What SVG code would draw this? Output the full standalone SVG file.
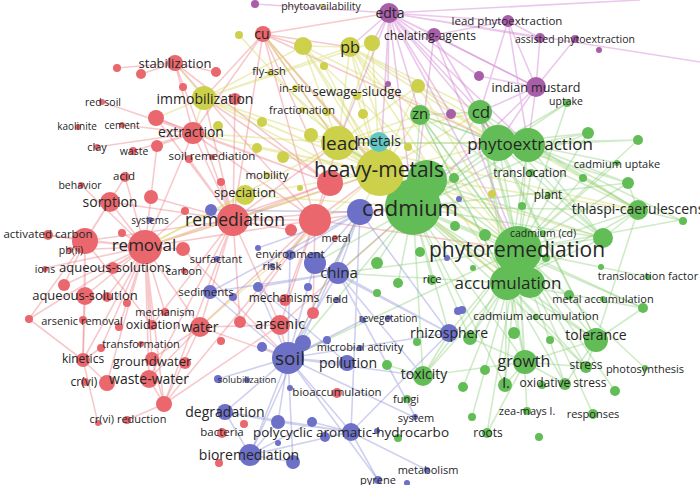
<svg xmlns="http://www.w3.org/2000/svg" width="700" height="485" viewBox="0 0 700 485">
<style>
.r{fill:#e9676d}.y{fill:#cdd04b}.g{fill:#63bd56}.b{fill:#6c70c7}.p{fill:#a85ea9}.c{fill:#62c7c3}
#edges path{fill:none;stroke-width:1.6;stroke-opacity:.42}
.er{stroke:#ec7e85}.ey{stroke:#d3d660}.eg{stroke:#8fcf7d}.eb{stroke:#8d92d6}.ep{stroke:#cf7bd0}
text{font-family:"Open Sans","DejaVu Sans",sans-serif;fill:#262626;text-anchor:middle}
</style>
<rect width="700" height="485" fill="#fff"/>
<g id="edges">
<path class="er" d="M145 247L85 241M145 247L110 202M145 247L151 197M145 247L125 177M145 247L81 185M145 247L48 235M145 247L70 250M145 247L45 268M145 247L113 268M145 247L85 296M145 247L64 285M145 247L107 297M145 247L127 303M145 247L152 325M145 247L165 312M145 247L200 327M145 247L83 360M145 247L152 359M145 247L149 379M145 247L107 383M145 247L183 249M145 247L233 220M145 247L315 220M145 247L193 133M145 247L157 146M145 247L29 319M145 247L101 348M145 247L119 327M145 247L164 404M145 247L122 233M145 247L185 211M145 247L330 183"/>
<path class="er" d="M85 241L110 202M85 241L125 177M85 241L48 235M85 241L85 296M85 241L83 360M85 241L29 319M85 241L64 285M85 241L233 220M85 241L152 325"/>
<path class="er" d="M233 220L193 133M233 220L156 118M233 220L175 63M233 220L263 34M233 220L204 98M233 220L315 220M233 220L280 325M233 220L200 327M233 220L149 379M233 220L164 404M233 220L110 202M233 220L235 99M233 220L338 143M233 220L380 172M233 220L413 207M233 220L151 197M233 220L221 182M233 220L291 230M233 220L330 183M233 220L240 322M233 220L152 325M233 220L189 159"/>
<path class="er" d="M315 220L263 34M315 220L193 133M315 220L175 63M315 220L280 325M315 220L380 172M315 220L413 207M315 220L518 250M315 220L200 327M315 220L164 404M315 220L338 143M315 220L240 322M315 220L313 313M315 220L285 300M315 220L330 183"/>
<path class="er" d="M330 183L263 34M330 183L193 133M330 183L204 98M330 183L156 118M330 183L175 63M263 34L338 143M263 34L380 172M263 34L413 207M263 34L498 143M263 34L350 47M263 34L193 133M263 34L303 46M263 34L204 98M263 34L389 13"/>
<path class="er" d="M164 404L152 359M164 404L149 379M164 404L280 325M200 327L152 359M200 327L149 379M200 327L288 358M200 327L164 404M280 325L288 358M280 325L200 327M280 325L413 207M83 360L101 348M83 360L107 383M83 360L85 296M193 133L156 118M193 133L157 146M193 133L133 151M193 133L175 63M193 133L122 125M193 133L97 147M193 133L102 102M175 63L117 68M175 63L141 74M175 63L216 72M127 420L164 404M98 423L83 360M183 249L288 358M29 319L83 360"/>
<path class="ey" d="M380 172L204 98M380 172L245 195M380 172L350 47M380 172L303 46M380 172L372 43M380 172L270 73M380 172L357 97M380 172L302 110M380 172L262 122M380 172L338 143M380 172L193 133M380 172L257 148M380 172L283 157M380 172L233 220M380 172L145 247M380 172L420 115M380 172L480 112M380 172L498 143M380 172L518 250M380 172L288 358M380 172L200 327M380 172L418 86M380 172L324 66M380 172L311 135M380 172L263 34M380 172L507 283M380 172L603 238M380 172L638 210"/>
<path class="ey" d="M338 143L350 47M338 143L303 46M338 143L263 34M338 143L204 98M338 143L193 133M338 143L145 247M338 143L420 115M338 143L480 112M338 143L498 143M338 143L413 207M338 143L518 250M338 143L418 86M338 143L372 43M338 143L239 35M338 143L507 283M338 143L638 210"/>
<path class="ey" d="M204 98L350 47M204 98L303 46M204 98L193 133M204 98L156 118M204 98L175 63M204 98L413 207M204 98L372 43M350 47L420 115M350 47L480 112M350 47L498 143M350 47L413 207M350 47L518 250M350 47L303 46M350 47L507 283M350 47L638 210M303 46L413 207M303 46L498 143M303 46L518 250M418 86L498 143M418 86L518 250M245 195L145 247M245 195L413 207"/>
<path class="eg" d="M413 207L498 143M413 207L528 145M413 207L518 250M413 207L507 283M413 207L530 283M413 207L480 112M413 207L420 115M413 207L603 238M413 207L638 210M413 207L588 133M413 207L596 340M413 207L525 362M413 207L423 376M413 207L432 280M413 207L449 333M413 207L505 385M413 207L586 367M413 207L643 308M413 207L628 183M413 207L567 103M413 207L288 358M413 207L338 273M413 207L315 263M413 207L377 263M413 207L398 283M413 207L454 178M413 207L455 226M413 207L485 235M413 207L470 338"/>
<path class="eg" d="M518 250L498 143M518 250L528 145M518 250L480 112M518 250L420 115M518 250L596 340M518 250L525 362M518 250L423 376M518 250L638 210M518 250L603 238M518 250L588 133M518 250L638 140M518 250L643 308M518 250L586 367M518 250L565 384M518 250L505 385M518 250L487 433M518 250L593 414M518 250L527 411M518 250L680 220M518 250L628 183M518 250L583 178M518 250L567 103M518 250L338 143M518 250L288 358M518 250L338 273M518 250L449 333M518 250L470 338M518 250L615 391M518 250L645 368M518 250L648 277M518 250L568 295M518 250L546 258M518 250L531 173M518 250L463 387M518 250L472 417M518 250L617 163"/>
<path class="eg" d="M507 283L596 340M507 283L525 362M507 283L423 376M507 283L480 112M507 283L638 210M507 283L603 238M507 283L505 385M507 283L586 367M507 283L420 115M507 283L528 145M507 283L565 384M507 283L470 338M507 283L338 273M507 283L643 308M507 283L536 317"/>
<path class="eg" d="M498 143L480 112M498 143L420 115M498 143L638 210M498 143L588 133M498 143L628 183M498 143L603 238M498 143L567 103M498 143L638 140M498 143L531 173M498 143L596 340M498 143L338 143M528 145L638 210M528 145L588 133M528 145L638 140M528 145L603 238M528 145L628 183M528 145L680 220M528 145L617 163"/>
<path class="eg" d="M480 112L638 210M480 112L603 238M480 112L596 340M480 112L525 362M480 112L530 283M480 112L420 115M420 115L518 250M420 115L507 283M420 115L603 238M420 115L498 143M525 362L596 340M525 362L586 367M525 362L565 384M525 362L487 433M525 362L423 376M525 362L505 385M525 362L470 338M596 340L586 367M596 340L565 384M596 340L643 308M596 340L638 210M638 210L603 238M638 210L628 183M638 210L680 220M427 180L498 143M427 180L518 250M427 180L603 238M423 376L449 333M423 376L387 365"/>
<path class="eb" d="M288 358L303 343M288 358L262 347M288 358L347 363M288 358L338 273M288 358L315 263M288 358L360 212M288 358L225 412M288 358L250 455M288 358L278 422M288 358L351 432M288 358L218 379M288 358L210 292M288 358L258 287M288 358L449 333M288 358L416 418M288 358L378 480M288 358L293 462M288 358L327 340M288 358L290 255M288 358L423 376M288 358L363 320M288 358L308 287"/>
<path class="eb" d="M360 212L338 273M360 212L315 263M360 212L290 255M360 212L210 292M360 212L449 333M360 212L351 432M360 212L250 455M360 212L211 210M360 212L258 248M351 432L225 412M351 432L250 455M351 432L378 480M351 432L427 470M351 432L278 422M351 432L312 422M351 432L449 333M351 432L325 437M250 455L225 412M250 455L278 422M250 455L293 462M250 455L312 422M338 273L449 333M338 273L423 376M338 273L416 418M338 273L210 292M338 273L258 287M225 412L278 422M315 263L449 333M258 287L347 363"/>
<path class="ep" d="M389 13L434 35M389 13L508 21M389 13L540 38M389 13L536 87M389 13L480 112M389 13L420 115M389 13L498 143M389 13L528 145M389 13L413 207M389 13L380 172M389 13L338 143M389 13L350 47M389 13L372 43M389 13L518 250M389 13L451 114M389 13L388 84M389 13L479 76M389 13L255 4M389 13L700 62M389 13L640 0"/>
<path class="ep" d="M536 87L528 145M536 87L498 143M536 87L508 21M536 87L540 38M536 87L479 76M536 87L480 112M536 87L434 35M536 87L413 207M536 87L575 39M508 21L528 145M508 21L434 35M508 21L480 112M508 21L540 38M434 35L480 112M434 35L413 207M434 35L518 250M434 35L498 143"/>
</g>
<g id="nodes">
<g id="u-p1"><circle class="p" cx="255" cy="4" r="4"/></g>
<g id="u-p2"><circle class="p" cx="451" cy="114" r="5"/></g>
<g id="u-p3"><circle class="p" cx="388" cy="84" r="3"/></g>
<g id="u-p4"><circle class="p" cx="479" cy="76" r="5"/></g>
<g id="u-p5"><circle class="p" cx="540" cy="38" r="5"/></g>
<g id="u-p6"><circle class="p" cx="599" cy="50" r="3"/></g>
<g id="u-y1"><circle class="y" cx="239" cy="35" r="4"/></g>
<g id="u-y2"><circle class="y" cx="303" cy="46" r="9"/></g>
<g id="u-y3"><circle class="y" cx="372" cy="43" r="8"/></g>
<g id="u-y4"><circle class="y" cx="324" cy="66" r="4"/></g>
<g id="u-y5"><circle class="y" cx="418" cy="86" r="7"/></g>
<g id="u-y6"><circle class="y" cx="327" cy="112" r="4"/></g>
<g id="u-y7"><circle class="y" cx="363" cy="114" r="5"/></g>
<g id="u-y8"><circle class="y" cx="262" cy="122" r="5"/></g>
<g id="u-y9"><circle class="y" cx="218" cy="126" r="5"/></g>
<g id="u-y10"><circle class="y" cx="311" cy="135" r="7"/></g>
<g id="u-y11"><circle class="y" cx="257" cy="148" r="5"/></g>
<g id="u-y12"><circle class="y" cx="283" cy="157" r="6"/></g>
<g id="u-y13"><circle class="y" cx="408" cy="147" r="4"/></g>
<g id="u-y14"><circle class="y" cx="300" cy="188" r="3"/></g>
<g id="u-y15"><circle class="y" cx="492" cy="194" r="4"/></g>
<g id="u-g1"><circle class="g" cx="427" cy="180" r="20"/></g>
<g id="u-g2"><circle class="g" cx="498" cy="143" r="18"/></g>
<g id="u-g3"><circle class="g" cx="530" cy="283" r="15"/></g>
<g id="u-r1"><circle class="r" cx="330" cy="183" r="13"/></g>
<g id="u-r2"><circle class="r" cx="315" cy="220" r="16"/></g>
<g id="u-r3"><circle class="r" cx="85" cy="241" r="13"/></g>
<g id="u-b1"><circle class="b" cx="360" cy="212" r="13"/></g>
<g id="u-b2"><circle class="b" cx="315" cy="263" r="11"/></g>
<g id="u-r4"><circle class="r" cx="117" cy="68" r="4"/></g>
<g id="u-r5"><circle class="r" cx="141" cy="74" r="5"/></g>
<g id="u-r6"><circle class="r" cx="216" cy="72" r="5"/></g>
<g id="u-r7"><circle class="r" cx="183" cy="87" r="4"/></g>
<g id="u-r8"><circle class="r" cx="235" cy="99" r="6"/></g>
<g id="u-r9"><circle class="r" cx="156" cy="118" r="8"/></g>
<g id="u-r10"><circle class="r" cx="157" cy="146" r="6"/></g>
<g id="u-r11"><circle class="r" cx="189" cy="159" r="4"/></g>
<g id="u-r12"><circle class="r" cx="151" cy="197" r="7"/></g>
<g id="u-r13"><circle class="r" cx="221" cy="182" r="4"/></g>
<g id="u-r14"><circle class="r" cx="185" cy="211" r="4"/></g>
<g id="u-r15"><circle class="r" cx="122" cy="233" r="4"/></g>
<g id="u-r16"><circle class="r" cx="183" cy="249" r="7"/></g>
<g id="u-r17"><circle class="r" cx="64" cy="285" r="6"/></g>
<g id="u-r18"><circle class="r" cx="107" cy="297" r="5"/></g>
<g id="u-r19"><circle class="r" cx="127" cy="303" r="4"/></g>
<g id="u-r20"><circle class="r" cx="29" cy="319" r="4"/></g>
<g id="u-r21"><circle class="r" cx="119" cy="327" r="4"/></g>
<g id="u-r22"><circle class="r" cx="240" cy="322" r="6"/></g>
<g id="u-r23"><circle class="r" cx="221" cy="341" r="4"/></g>
<g id="u-r24"><circle class="r" cx="101" cy="348" r="4"/></g>
<g id="u-r25"><circle class="r" cx="185" cy="363" r="6"/></g>
<g id="u-r26"><circle class="r" cx="107" cy="383" r="8"/></g>
<g id="u-r27"><circle class="r" cx="164" cy="404" r="8"/></g>
<g id="u-r28"><circle class="r" cx="98" cy="423" r="3"/></g>
<g id="u-r29"><circle class="r" cx="244" cy="424" r="4"/></g>
<g id="u-r30"><circle class="r" cx="219" cy="463" r="4"/></g>
<g id="u-r31"><circle class="r" cx="291" cy="230" r="6"/></g>
<g id="u-r32"><circle class="r" cx="313" cy="313" r="6"/></g>
<g id="u-b3"><circle class="b" cx="211" cy="210" r="6"/></g>
<g id="u-b4"><circle class="b" cx="233" cy="297" r="4"/></g>
<g id="u-b5"><circle class="b" cx="258" cy="287" r="5"/></g>
<g id="u-b6"><circle class="b" cx="308" cy="287" r="4"/></g>
<g id="u-b7"><circle class="b" cx="258" cy="248" r="3"/></g>
<g id="u-b8"><circle class="b" cx="262" cy="347" r="5"/></g>
<g id="u-b9"><circle class="b" cx="303" cy="343" r="8"/></g>
<g id="u-b10"><circle class="b" cx="327" cy="340" r="4"/></g>
<g id="u-b11"><circle class="b" cx="363" cy="320" r="3"/></g>
<g id="u-b12"><circle class="b" cx="458" cy="311" r="4"/></g>
<g id="u-b13"><circle class="b" cx="218" cy="379" r="4"/></g>
<g id="u-b14"><circle class="b" cx="290" cy="388" r="3"/></g>
<g id="u-b15"><circle class="b" cx="278" cy="422" r="7"/></g>
<g id="u-b16"><circle class="b" cx="312" cy="422" r="5"/></g>
<g id="u-b17"><circle class="b" cx="325" cy="437" r="5"/></g>
<g id="u-b18"><circle class="b" cx="377" cy="431" r="3"/></g>
<g id="u-b19"><circle class="b" cx="278" cy="443" r="3"/></g>
<g id="u-b20"><circle class="b" cx="293" cy="462" r="7"/></g>
<g id="u-b21"><circle class="b" cx="407" cy="483" r="3"/></g>
<g id="u-b22"><circle class="b" cx="459" cy="199" r="3"/></g>
<g id="u-b23"><circle class="b" cx="447" cy="258" r="3"/></g>
<g id="u-b24"><circle class="b" cx="462" cy="310" r="4"/></g>
<g id="u-g4"><circle class="g" cx="588" cy="133" r="6"/></g>
<g id="u-g5"><circle class="g" cx="638" cy="140" r="5"/></g>
<g id="u-g6"><circle class="g" cx="454" cy="178" r="5"/></g>
<g id="u-g7"><circle class="g" cx="455" cy="226" r="5"/></g>
<g id="u-g8"><circle class="g" cx="485" cy="235" r="6"/></g>
<g id="u-g9"><circle class="g" cx="603" cy="238" r="10"/></g>
<g id="u-g10"><circle class="g" cx="377" cy="263" r="6"/></g>
<g id="u-g11"><circle class="g" cx="398" cy="283" r="5"/></g>
<g id="u-g12"><circle class="g" cx="420" cy="252" r="5"/></g>
<g id="u-g13"><circle class="g" cx="377" cy="293" r="4"/></g>
<g id="u-g14"><circle class="g" cx="522" cy="206" r="4"/></g>
<g id="u-g15"><circle class="g" cx="583" cy="178" r="4"/></g>
<g id="u-g16"><circle class="g" cx="628" cy="183" r="6"/></g>
<g id="u-g17"><circle class="g" cx="601" cy="267" r="3"/></g>
<g id="u-g18"><circle class="g" cx="569" cy="295" r="5"/></g>
<g id="u-g19"><circle class="g" cx="546" cy="258" r="4"/></g>
<g id="u-g20"><circle class="g" cx="473" cy="268" r="3"/></g>
<g id="u-g21"><circle class="g" cx="683" cy="221" r="4"/></g>
<g id="u-g22"><circle class="g" cx="643" cy="308" r="5"/></g>
<g id="u-g23"><circle class="g" cx="470" cy="338" r="7"/></g>
<g id="u-g24"><circle class="g" cx="514" cy="333" r="6"/></g>
<g id="u-g25"><circle class="g" cx="550" cy="340" r="4"/></g>
<g id="u-g26"><circle class="g" cx="417" cy="342" r="4"/></g>
<g id="u-g27"><circle class="g" cx="387" cy="365" r="5"/></g>
<g id="u-g28"><circle class="g" cx="463" cy="387" r="5"/></g>
<g id="u-g29"><circle class="g" cx="485" cy="370" r="5"/></g>
<g id="u-g30"><circle class="g" cx="542" cy="385" r="4"/></g>
<g id="u-g31"><circle class="g" cx="615" cy="391" r="5"/></g>
<g id="u-g32"><circle class="g" cx="472" cy="417" r="4"/></g>
<g id="u-g33"><circle class="g" cx="539" cy="437" r="4"/></g>
<g id="u-g34"><circle class="g" cx="398" cy="438" r="4"/></g>
<g id="n-cadmium"><circle class="g" cx="413" cy="207" r="28"/><text x="410" y="216" font-size="22">cadmium</text></g>
<g id="n-heavy-metals"><circle class="y" cx="380" cy="172" r="24"/><text x="379" y="177" font-size="21">heavy-metals</text></g>
<g id="n-phytoremediation"><circle class="g" cx="518" cy="250" r="24"/><text x="517" y="257" font-size="21">phytoremediation</text></g>
<g id="n-lead"><circle class="y" cx="338" cy="143" r="17"/><text x="340" y="150" font-size="19">lead</text></g>
<g id="n-phytoextraction"><circle class="g" cx="528" cy="145" r="17"/><text x="530" y="150" font-size="17">phytoextraction</text></g>
<g id="n-accumulation"><circle class="g" cx="507" cy="283" r="17"/><text x="508" y="289" font-size="17">accumulation</text></g>
<g id="n-removal"><circle class="r" cx="145" cy="247" r="17"/><text x="144" y="251" font-size="17">removal</text></g>
<g id="n-remediation"><circle class="r" cx="233" cy="220" r="16"/><text x="235" y="226" font-size="17.5">remediation</text></g>
<g id="n-soil"><circle class="b" cx="288" cy="358" r="16"/><text x="290" y="365" font-size="19">soil</text></g>
<g id="n-cd"><circle class="g" cx="480" cy="112" r="12"/><text x="481" y="118" font-size="17">cd</text></g>
<g id="n-immobilization"><circle class="y" cx="204" cy="98" r="12"/><text x="205" y="104" font-size="14">immobilization</text></g>
<g id="n-tolerance"><circle class="g" cx="596" cy="340" r="12"/><text x="596" y="340" font-size="14">tolerance</text></g>
<g id="n-growth"><circle class="g" cx="525" cy="362" r="12"/><text x="524" y="367" font-size="16">growth</text></g>
<g id="n-extraction"><circle class="r" cx="193" cy="133" r="11"/><text x="191" y="137" font-size="14">extraction</text></g>
<g id="n-china"><circle class="b" cx="338" cy="273" r="11"/><text x="339" y="278" font-size="15">china</text></g>
<g id="n-bioremediation"><circle class="b" cx="250" cy="455" r="11"/><text x="249" y="460" font-size="14">bioremediation</text></g>
<g id="n-edta"><circle class="p" cx="389" cy="13" r="10"/><text x="390" y="18" font-size="14">edta</text></g>
<g id="n-indian-mustard"><circle class="p" cx="536" cy="87" r="10"/><text x="536" y="92" font-size="12.5">indian mustard</text></g>
<g id="n-pb"><circle class="y" cx="350" cy="47" r="10"/><text x="350" y="53" font-size="16">pb</text></g>
<g id="n-metals"><circle class="c" cx="379" cy="142" r="10"/><text x="379" y="146" font-size="14">metals</text></g>
<g id="n-zn"><circle class="g" cx="420" cy="115" r="10"/><text x="420" y="119" font-size="15">zn</text></g>
<g id="n-speciation"><circle class="y" cx="245" cy="195" r="10"/><text x="245" y="197" font-size="13">speciation</text></g>
<g id="n-sorption"><circle class="r" cx="110" cy="202" r="10"/><text x="110" y="207" font-size="14">sorption</text></g>
<g id="n-water"><circle class="r" cx="200" cy="327" r="10"/><text x="200" y="332" font-size="14">water</text></g>
<g id="n-arsenic"><circle class="r" cx="280" cy="325" r="10"/><text x="280" y="329" font-size="15">arsenic</text></g>
<g id="n-thlaspi-caerulescens"><circle class="g" cx="638" cy="210" r="10"/><text x="638" y="214" font-size="14">thlaspi-caerulescens</text></g>
<g id="n-toxicity"><circle class="g" cx="423" cy="376" r="10"/><text x="424" y="379" font-size="14">toxicity</text></g>
<g id="n-pah"><circle class="b" cx="351" cy="432" r="9"/><text x="351" y="437" font-size="13.5">polycyclic aromatic-hydrocarbo</text></g>
<g id="n-rhizosphere"><circle class="b" cx="449" cy="333" r="9"/><text x="449" y="338" font-size="14">rhizosphere</text></g>
<g id="n-aqueous-solution"><circle class="r" cx="85" cy="296" r="9"/><text x="85" y="299.5" font-size="13">aqueous-solution</text></g>
<g id="n-waste-water"><circle class="r" cx="149" cy="379" r="9"/><text x="149" y="384" font-size="14">waste-water</text></g>
<g id="n-degradation"><circle class="b" cx="225" cy="412" r="8"/><text x="225" y="417" font-size="14">degradation</text></g>
<g id="n-pollution"><circle class="b" cx="347" cy="363" r="8"/><text x="348" y="368" font-size="14">pollution</text></g>
<g id="n-cu"><circle class="r" cx="263" cy="34" r="8"/><text x="262" y="39" font-size="14">cu</text></g>
<g id="n-stabilization"><circle class="r" cx="175" cy="63" r="8"/><text x="175" y="67.5" font-size="13">stabilization</text></g>
<g id="n-chelating-agents"><circle class="p" cx="434" cy="35" r="7"/><text x="430" y="40" font-size="12">chelating-agents</text></g>
<g id="n-sediments"><circle class="b" cx="210" cy="292" r="7"/><text x="206" y="296" font-size="11.5">sediments</text></g>
<g id="n-kinetics"><circle class="r" cx="83" cy="360" r="7"/><text x="83" y="363" font-size="12">kinetics</text></g>
<g id="n-groundwater"><circle class="r" cx="152" cy="359" r="7"/><text x="152" y="365.5" font-size="13">groundwater</text></g>
<g id="n-l"><circle class="g" cx="505" cy="385" r="7"/><text x="506" y="388" font-size="15">l.</text></g>
<g id="n-lead-phytoextraction"><circle class="p" cx="508" cy="21" r="6"/><text x="507" y="25" font-size="11.5">lead phytoextraction</text></g>
<g id="n-aqueous-solutions"><circle class="r" cx="113" cy="268" r="6"/><text x="115" y="271.5" font-size="13">aqueous-solutions</text></g>
<g id="n-mechanisms"><circle class="r" cx="285" cy="300" r="6"/><text x="284" y="302" font-size="12">mechanisms</text></g>
<g id="n-stress"><circle class="g" cx="586" cy="367" r="6"/><text x="586" y="369" font-size="12">stress</text></g>
<g id="n-oxidative-stress"><circle class="g" cx="565" cy="384" r="6"/><text x="563" y="387" font-size="12">oxidative stress</text></g>
<g id="n-acid"><circle class="r" cx="125" cy="177" r="5"/><text x="124" y="180" font-size="11.5">acid</text></g>
<g id="n-activated-carbon"><circle class="r" cx="48" cy="235" r="5"/><text x="48" y="238" font-size="11.5">activated carbon</text></g>
<g id="n-oxidation"><circle class="r" cx="152" cy="325" r="5"/><text x="153" y="329" font-size="12.5">oxidation</text></g>
<g id="n-environment"><circle class="b" cx="290" cy="255" r="5"/><text x="290" y="258" font-size="11.5">environment</text></g>
<g id="n-bioaccumulation"><circle class="r" cx="337" cy="393" r="5"/><text x="337" y="396" font-size="11.5">bioaccumulation</text></g>
<g id="n-bacteria"><circle class="r" cx="222" cy="433" r="5"/><text x="222" y="436" font-size="11.5">bacteria</text></g>
<g id="n-rice"><circle class="g" cx="432" cy="280" r="5"/><text x="432" y="283" font-size="11">rice</text></g>
<g id="n-responses"><circle class="g" cx="593" cy="414" r="5"/><text x="593" y="418" font-size="11">responses</text></g>
<g id="n-roots"><circle class="g" cx="487" cy="433" r="5"/><text x="488" y="437" font-size="12">roots</text></g>
<g id="n-assisted-phytoextraction"><circle class="p" cx="575" cy="39" r="4"/><text x="575" y="43" font-size="10.5">assisted phytoextraction</text></g>
<g id="n-sewage-sludge"><circle class="y" cx="357" cy="96" r="4"/><text x="357" y="95.5" font-size="13">sewage-sludge</text></g>
<g id="n-waste"><circle class="r" cx="133" cy="151" r="4"/><text x="134" y="154.7" font-size="10.5">waste</text></g>
<g id="n-mechanism"><circle class="r" cx="165" cy="312" r="4"/><text x="165" y="316" font-size="11">mechanism</text></g>
<g id="n-arsenic-removal"><circle class="r" cx="83" cy="320" r="4"/><text x="82" y="325" font-size="11">arsenic removal</text></g>
<g id="n-crvi"><circle class="r" cx="85" cy="382" r="4"/><text x="84" y="386" font-size="12">cr(vi)</text></g>
<g id="n-crvi-reduction"><circle class="r" cx="127" cy="420" r="4"/><text x="128" y="423" font-size="11">cr(vi) reduction</text></g>
<g id="n-pyrene"><circle class="b" cx="378" cy="480" r="4"/><text x="378" y="484" font-size="11">pyrene</text></g>
<g id="n-uptake"><circle class="g" cx="567" cy="103" r="4"/><text x="566" y="105" font-size="10.5">uptake</text></g>
<g id="n-translocation"><circle class="g" cx="531" cy="173" r="4"/><text x="530" y="177" font-size="12">translocation</text></g>
<g id="n-zea-mays"><circle class="g" cx="527" cy="411" r="4"/><text x="527" y="415" font-size="11">zea-mays l.</text></g>
<g id="n-fungi"><circle class="g" cx="407" cy="399" r="4"/><text x="406" y="403" font-size="11">fungi</text></g>
<g id="n-phytoavailability"><circle class="y" cx="322" cy="6" r="2"/><text x="321" y="10" font-size="10.5">phytoavailability</text></g>
<g id="n-fly-ash"><circle class="y" cx="270" cy="73" r="3"/><text x="269" y="75" font-size="11">fly-ash</text></g>
<g id="n-in-situ"><circle class="y" cx="295" cy="88" r="3"/><text x="295" y="92" font-size="11">in-situ</text></g>
<g id="n-fractionation"><circle class="y" cx="302" cy="110" r="3"/><text x="302" y="114" font-size="11">fractionation</text></g>
<g id="n-mobility"><circle class="y" cx="267" cy="175" r="3"/><text x="267" y="179" font-size="11.5">mobility</text></g>
<g id="n-red-soil"><circle class="r" cx="102" cy="102" r="3"/><text x="103" y="105.7" font-size="10.5">red soil</text></g>
<g id="n-kaolinite"><circle class="r" cx="78" cy="127" r="3"/><text x="77" y="129.5" font-size="10">kaolinite</text></g>
<g id="n-cement"><circle class="r" cx="122" cy="125" r="3"/><text x="122" y="128.5" font-size="10">cement</text></g>
<g id="n-clay"><circle class="r" cx="97" cy="147" r="3"/><text x="97" y="151" font-size="11">clay</text></g>
<g id="n-soil-remediation"><circle class="r" cx="212" cy="157" r="3"/><text x="212" y="160" font-size="11.5">soil remediation</text></g>
<g id="n-behavior"><circle class="r" cx="81" cy="185" r="3"/><text x="80" y="188.7" font-size="10.5">behavior</text></g>
<g id="n-pbii"><circle class="r" cx="70" cy="250" r="3"/><text x="71" y="253.7" font-size="10.5">pb(ii)</text></g>
<g id="n-ions"><circle class="r" cx="45" cy="269" r="3"/><text x="45" y="272.7" font-size="10.5">ions</text></g>
<g id="n-carbon"><circle class="r" cx="184" cy="271" r="3"/><text x="184" y="275" font-size="11">carbon</text></g>
<g id="n-transformation"><circle class="r" cx="141" cy="344" r="3"/><text x="141" y="348" font-size="11">transformation</text></g>
<g id="n-metal"><circle class="r" cx="335" cy="238" r="3"/><text x="336" y="242" font-size="11">metal</text></g>
<g id="n-systems"><circle class="b" cx="150" cy="220" r="3"/><text x="150" y="223.5" font-size="10">systems</text></g>
<g id="n-surfactant"><circle class="b" cx="217" cy="259" r="3"/><text x="216" y="263" font-size="11">surfactant</text></g>
<g id="n-risk"><circle class="b" cx="272" cy="266" r="3"/><text x="272" y="270" font-size="11.5">risk</text></g>
<g id="n-field"><circle class="b" cx="337" cy="300" r="3"/><text x="337" y="303" font-size="11">field</text></g>
<g id="n-revegetation"><circle class="b" cx="388" cy="318" r="3"/><text x="388" y="321.5" font-size="10">revegetation</text></g>
<g id="n-microbial-activity"><circle class="b" cx="360" cy="348" r="3"/><text x="360" y="351" font-size="11">microbial activity</text></g>
<g id="n-solubilization"><circle class="b" cx="247" cy="380" r="3"/><text x="247" y="383" font-size="9.5">solubilization</text></g>
<g id="n-system"><circle class="b" cx="415" cy="417" r="3"/><text x="416" y="422" font-size="11">system</text></g>
<g id="n-metabolism"><circle class="b" cx="427" cy="470" r="3"/><text x="428" y="474" font-size="11">metabolism</text></g>
<g id="n-cadmium-uptake"><circle class="g" cx="617" cy="163" r="3"/><text x="617" y="168" font-size="11">cadmium uptake</text></g>
<g id="n-plant"><circle class="g" cx="548" cy="195" r="3"/><text x="548" y="199" font-size="12">plant</text></g>
<g id="n-cadmium-cd"><circle class="g" cx="543" cy="233" r="3"/><text x="543" y="236.7" font-size="10.5">cadmium (cd)</text></g>
<g id="n-translocation-factor"><circle class="g" cx="648" cy="277" r="3"/><text x="648" y="280" font-size="11">translocation factor</text></g>
<g id="n-metal-accumulation"><circle class="g" cx="603" cy="299" r="3"/><text x="603" y="303" font-size="11">metal accumulation</text></g>
<g id="n-cadmium-accumulation"><circle class="g" cx="536" cy="317" r="3"/><text x="536" y="320" font-size="11.5">cadmium accumulation</text></g>
<g id="n-photosynthesis"><circle class="g" cx="645" cy="368" r="3"/><text x="645" y="373" font-size="11">photosynthesis</text></g>
</g>
</svg>
